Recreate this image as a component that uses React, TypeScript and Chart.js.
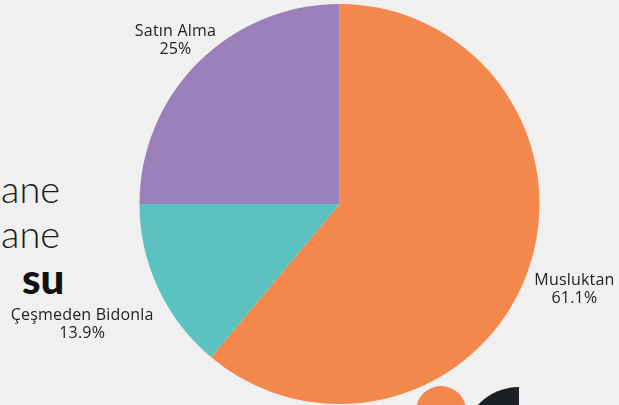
import React, { useEffect, useRef } from "react";
import { Chart, registerables } from "chart.js";

Chart.register(...registerables);

const categories = ["Musluktan", "Çeşmeden Bidonla", "Satın Alma"];
const values = [61.1, 13.9, 25];
const valueLabels = ["61.1%", "13.9%", "25%"];
const colors = ["#F4874B", "#5BC2BF", "#9B7FBB"];
const labelDistance = [1.25, 1.42, 1.16];

const labelPlugin = {
  id: "outerLabels",
  afterDraw(chart: any) {
    const ctx = chart.ctx;
    const meta = chart.getDatasetMeta(0);
    ctx.save();
    ctx.fillStyle = "#222222";
    ctx.textAlign = "center";
    ctx.textBaseline = "middle";
    ctx.font = "16px 'Open Sans', sans-serif";
    try {
      (ctx as any).letterSpacing = "0.2px";
    } catch (e) {}
    meta.data.forEach((arc: any, i: number) => {
      const p = arc.getProps(["x", "y", "startAngle", "endAngle", "outerRadius"], true);
      const a = (p.startAngle + p.endAngle) / 2;
      const r = p.outerRadius * labelDistance[i];
      const x = p.x + Math.cos(a) * r;
      const y = p.y + Math.sin(a) * r;
      ctx.fillText(categories[i], x, y - 9);
      ctx.fillText(valueLabels[i], x, y + 9);
    });
    ctx.restore();
  },
};

export default function App() {
  const ref = useRef<HTMLCanvasElement>(null);
  useEffect(() => {
    if (!ref.current) return;
    const chart = new Chart(ref.current, {
      type: "pie",
      data: {
        labels: categories,
        datasets: [
          {
            data: values,
            backgroundColor: colors,
            borderWidth: 0,
          },
        ],
      },
      options: {
        responsive: false,
        animation: false,
        layout: { padding: { left: 60, right: 0, top: 4, bottom: 1 } },
        plugins: {
          legend: { display: false },
          tooltip: { enabled: false },
        },
      },
      plugins: [labelPlugin],
    });
    return () => chart.destroy();
  }, []);

  return (
    <div
      style={{
        position: "fixed",
        left: 0,
        top: 0,
        width: 619,
        height: 405,
        background: "#EFF0EF",
        overflow: "hidden",
      }}
    >
      <div
        style={{
          position: "absolute",
          left: 1,
          top: 166,
          fontFamily: "Lato, sans-serif",
          fontWeight: 300,
          fontSize: 38,
          color: "#1a1a1a",
          lineHeight: "45px",
        }}
      >
        <div>ane</div>
        <div>ane</div>
      </div>
      <div
        style={{
          position: "absolute",
          left: 22,
          top: 253,
          fontFamily: "Lato, sans-serif",
          fontWeight: 900,
          fontSize: 42,
          color: "#111",
          lineHeight: "50px",
        }}
      >
        su
      </div>
      <div
        style={{
          position: "absolute",
          left: 416,
          top: 386,
          width: 50,
          height: 50,
          borderRadius: "50%",
          background: "#F4874B",
        }}
      />
      <div
        style={{
          position: "absolute",
          left: 463,
          top: 387,
          width: 56,
          height: 112,
          borderRadius: "56px 0 0 56px",
          background: "#1C1F24",
        }}
      />
      <canvas
        ref={ref}
        width={619}
        height={405}
        style={{ position: "absolute", left: 0, top: 0 }}
      />
    </div>
  );
}
